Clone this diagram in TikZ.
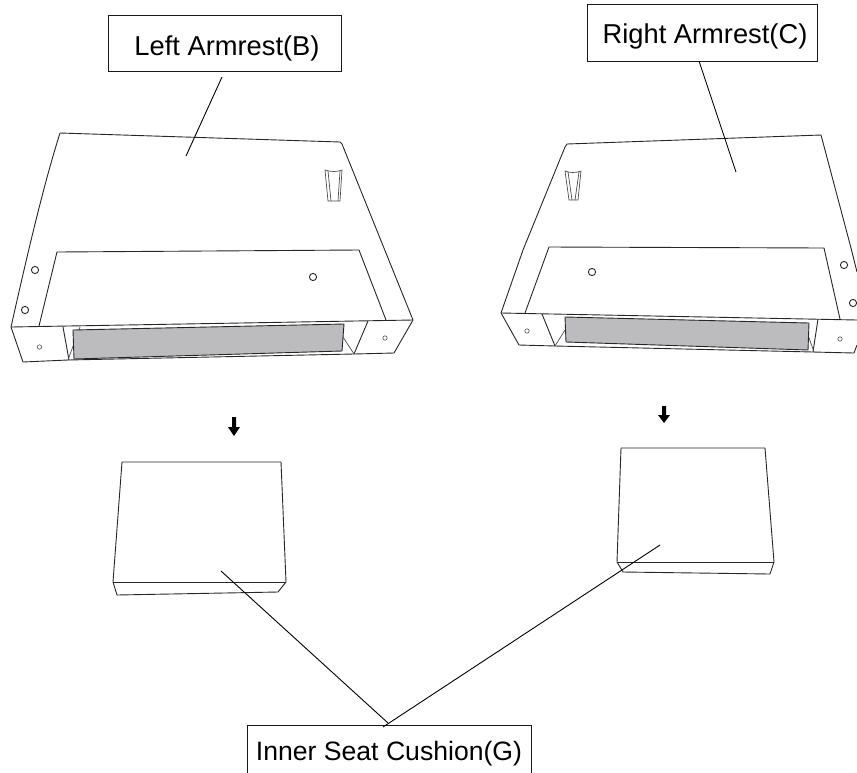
\documentclass[tikz,border=0pt]{standalone}
\usepackage{fontspec}
\setmainfont{Liberation Sans}
\tikzset{
  px/.style={x=1pt,y=-1pt},
  part/.style={draw=black!85,line width=0.9pt,line join=round},
  partthin/.style={draw=black!70,line width=0.7pt},
  panel/.style={draw=black!85,line width=0.9pt,fill=panelgray},
  hole/.style={draw=black!85,line width=0.9pt,fill=white},
  smallhole/.style={draw=black!70,line width=0.6pt,fill=white},
  labelbox/.style={draw=black!90,line width=1pt,fill=white,inner sep=0pt,font=\fontsize{27.3}{30}\selectfont},
  leader/.style={draw=black,line width=0.9pt},
  droparrow/.style={fill=black,draw=none}
}
\definecolor{panelgray}{HTML}{BCBCBF}
\begin{document}
\begin{tikzpicture}[px]
\useasboundingbox (0,0) rectangle (857,772);
\clip (0,0) rectangle (857,772);
% Left armrest
\draw[part] (60,133) -- (340,142) -- (342,144) -- (413,320) -- (394,353) -- (354,354) -- (68,360) -- (23,362) -- (11,327) .. controls (25,265) and (42,190) .. (60,133);
\draw[part] (11,327) -- (413,320);
\draw[part] (39,326) -- (57,252) -- (359,250) -- (386,320);
\draw[part] (63,327) -- (69,360);
\draw[part] (368,321) -- (354,354);
\draw[partthin] (80,327) -- (68,360);
\draw[partthin] (343,337) -- (354,354);
\draw[panel] (73,330) -- (344,324) -- (342,351) -- (74,359) -- cycle;
\draw[hole] (35,270) circle (3.6);
\draw[hole] (25,310) circle (3.6);
\draw[hole] (313,277) circle (3.6);
\draw[smallhole] (39.5,347) circle (2.2);
\draw[smallhole] (385,338) circle (2.2);
\draw[partthin] (325,170) .. controls (331,172) and (337,172) .. (342,170) -- (340,201) -- (328,201) -- cycle;
\draw[partthin] (328,171) -- (331,201);
\draw[partthin] (340,171) -- (338,201);
% Right armrest
\draw[part] (501,313) -- (523,250) -- (565,147) -- (567,144) -- (821,135) -- (851,248) -- (857,272);
\draw[part] (501,313) -- (519,345) -- (555,346) -- (813,352) -- (854,353) -- (857,345);
\draw[part] (501,313) -- (857,320);
\draw[part] (525,313) -- (549,247) -- (824,248) -- (840,319);
\draw[part] (542,314) -- (555,346);
\draw[part] (818,319) -- (813,352);
\draw[partthin] (555,346) -- (565,330);
\draw[partthin] (808,335) -- (814,352);
\draw[panel] (565,317) -- (809,323) -- (808,350) -- (566,342) -- cycle;
\draw[hole] (592,272) circle (3.6);
\draw[hole] (844,265) circle (3.6);
\draw[hole] (853,303) circle (3.6);
\draw[smallhole] (527,331) circle (2.2);
\draw[smallhole] (840,339) circle (2.2);
\draw[partthin] (565,171) .. controls (570,173) and (576,173) .. (581,171) -- (578,200) -- (569,200) -- cycle;
\draw[partthin] (568,172) -- (572,200);
\draw[partthin] (579,172) -- (575,200);
% Arrows
\fill[droparrow] (232,417) -- (236,417) -- (236,427) -- (240,427) -- (234,436) -- (228,427) -- (232,427) -- cycle;
\fill[droparrow] (662,406) -- (666,406) -- (666,415) -- (670,415) -- (664,423) -- (658,415) -- (662,415) -- cycle;
% Cushions
\draw[part] (122,462) -- (281,462) -- (286,582) -- (278,592) -- (117,595) -- (113,582) -- cycle;
\draw[part] (113,582) -- (286,582);
\draw[part] (621,448) -- (765,448) -- (774,562) -- (770,574) -- (623,572) -- (617,562) -- cycle;
\draw[part] (617,562) -- (774,562);
% Labels
\node[labelbox,minimum width=233pt,text height=40pt,text depth=16pt] (lb) at (224.5,43) {\hspace*{5pt}Left Armrest(B)};
\node[labelbox,minimum width=230pt,text height=39pt,text depth=18pt] (rb) at (702,32.5) {\hspace*{6pt}Right Armrest(C)};
\node[labelbox,minimum width=284pt,text height=35pt,text depth=22pt,font=\fontsize{26.6}{30}\selectfont] (gb) at (389,753.5) {Inner Seat Cushion(G)};
% Leaders
\coordinate (lbt) at (222,77);
\coordinate (lbe) at (186,156);
\coordinate (rbt) at (699,61);
\coordinate (rbe) at (736,172);
\coordinate (gbt) at (388,723);
\coordinate (gbu) at (383,727);
\coordinate (gl) at (221,571);
\coordinate (gr) at (660,545);
\draw[leader] (lbt) -- (lbe);
\draw[leader] (rbt) -- (rbe);
\draw[leader] (gbt) -- (gl);
\draw[leader] (gbu) -- (gr);
\end{tikzpicture}
\end{document}
